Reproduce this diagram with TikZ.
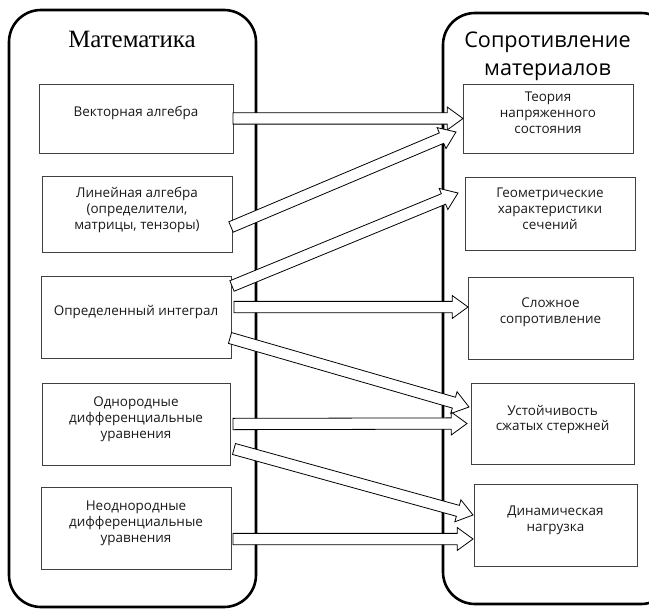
\documentclass[tikz,border=0pt]{standalone}
\usepackage{fontspec}
\setmainfont{Open Sans}
\newfontfamily\serifttl{Liberation Serif}
\usetikzlibrary{shapes.arrows,calc}

\tikzset{
  container/.style={draw=black, line width=2.6bp, rounded corners=32bp, inner sep=0, outer sep=0},
  box/.style={draw=black!75, line width=0.9bp, inner sep=0, outer sep=0},
  boxtext/.style={align=center, font=\fontsize{13.5}{16}\selectfont, inner sep=0, text=black!90},
  barrow/.style={single arrow, draw=black, fill=white, line width=0.8bp, inner xsep=0,
    inner ysep=5.25bp, single arrow head extend=5.75bp, single arrow tip angle=72,
    outer sep=0, minimum width=0pt},
}

\newcommand\blockarrow[3]{%
  \path let \p1=#1, \p2=#2, \n1={atan2(\y2-\y1,\x2-\x1)}, \n2={veclen(\x2-\x1,\y2-\y1)} in
    node[barrow, minimum height=\n2, rotate=\n1, anchor=tail] (#3) at (\p1) {};%
}

\begin{document}
\begin{tikzpicture}[x=1bp,y=-1bp]
\useasboundingbox (0,0) rectangle (649,609);
\clip (0,0) rectangle (649,609);

% containers
\node[container, minimum width=247bp, minimum height=597bp] (math) at (132.5,308.5) {};
\node[container, minimum width=230bp, minimum height=591bp] (som) at (558,308.5) {};

% titles
\node[font=\serifttl\fontsize{25}{28}\selectfont, inner sep=0] (mtitle) at (132,39) {Математика};
\node[font=\fontsize{21.7}{28}\selectfont, align=center, inner sep=0] (stitle) at (547.5,56) {Сопротивление\\материалов};

% left boxes
\node[box, minimum width=194bp, minimum height=69bp] (l1) at (136,118.5) {};
\node[box, minimum width=190bp, minimum height=76bp] (l2) at (137,214) {};
\node[box, minimum width=190bp, minimum height=82bp] (l3) at (136,317) {};
\node[box, minimum width=188bp, minimum height=82bp] (l4) at (136,424) {};
\node[box, minimum width=190bp, minimum height=82bp] (l5) at (136,528) {};

\node[boxtext] (lt1) at ([yshift=5.5bp]l1.center) {Векторная алгебра};
\node[boxtext] (lt2) at ([yshift=4bp]l2.center) {Линейная алгебра\\(определители,\\матрицы, тензоры)};
\node[boxtext] (lt3) at ([yshift=5bp]l3.center) {Определенный интеграл};
\node[boxtext] (lt4) at ([yshift=5bp]l4.center) {Однородные\\дифференциальные\\уравнения};
\node[boxtext] (lt5) at ([yshift=5bp]l5.center) {Неоднородные\\дифференциальные\\уравнения};

% right boxes
\node[box, minimum width=170bp, minimum height=69bp] (r1) at (548,118.5) {};
\node[box, minimum width=170bp, minimum height=73bp] (r2) at (550,213.5) {};
\node[box, minimum width=165bp, minimum height=82bp] (r3) at (550.5,318) {};
\node[box, minimum width=163bp, minimum height=81bp] (r4) at (552.5,423.5) {};
\node[box, minimum width=163bp, minimum height=82bp] (r5) at (555.5,525) {};

\node[boxtext] (rt1) at ([yshift=5.5bp]r1.center) {Теория\\напряженного\\состояния};
\node[boxtext] (rt2) at ([yshift=5bp]r2.center) {Геометрические\\характеристики\\сечений};
\node[boxtext] (rt3) at ([yshift=5.5bp]r3.center) {Сложное\\сопротивление};
\node[boxtext] (rt4) at ([yshift=4bp]r4.center) {Устойчивость\\сжатых стержней};
\node[boxtext] (rt5) at ([yshift=4.5bp]r5.center) {Динамическая\\нагрузка};

% block arrows
\blockarrow{(l1.east)}{(r1.west)}{a1}
\blockarrow{($(l2.east)+(-1,13)$)}{($(r1.west)+(-7,13.5)$)}{a2}
\blockarrow{($(l3.north east)+(1,10)$)}{($(r2.west)+(-7,-20.5)$)}{a3}
\blockarrow{($(l3.east)+(3,-10)$)}{($(r3.west)+(0,-11)$)}{a4}
\blockarrow{($(l3.east)+(-1,21)$)}{($(r4.west)+(-2,-16.5)$)}{a5}
\blockarrow{($(l4.east)+(3,0)$)}{($(r4.west)+(-4,0)$)}{a6}
\blockarrow{($(l4.east)+(4,25)$)}{($(r5.west)+(-1,-10)$)}{a7}
\blockarrow{($(l5.east)+(2,11)$)}{($(r5.west)+(-1,14)$)}{a8}
\end{tikzpicture}
\end{document}
